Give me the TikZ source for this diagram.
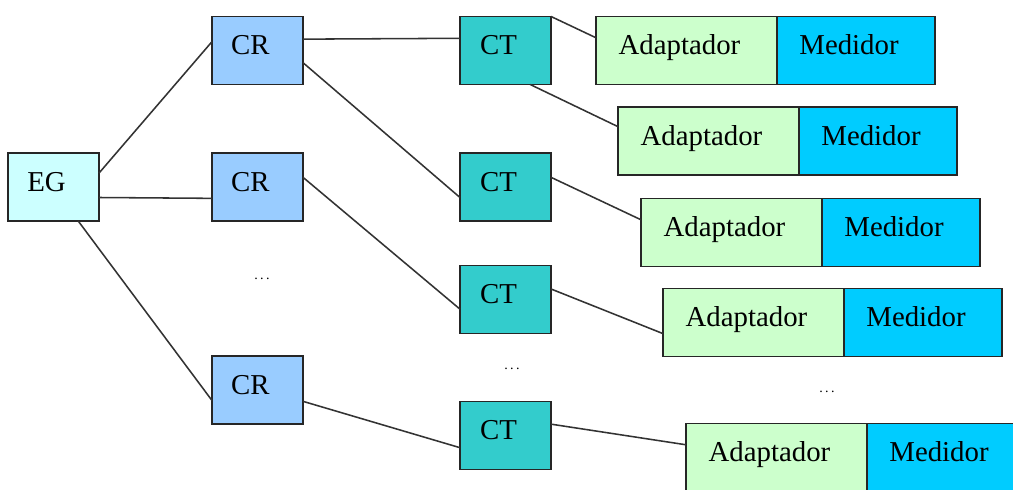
\documentclass[tikz,border=0pt]{standalone}
\usepackage{fontspec}
\setmainfont{Liberation Serif}
\usetikzlibrary{positioning}
\definecolor{egcyan}{RGB}{204,255,255}
\definecolor{crblue}{RGB}{153,204,255}
\definecolor{ctteal}{RGB}{51,204,204}
\definecolor{adgreen}{RGB}{204,255,204}
\definecolor{medblue}{RGB}{0,204,255}
\colorlet{linegray}{black!80}
\tikzstyle{box}=[draw=black!85,line width=1.3pt,rectangle,inner sep=0,outer sep=0,
  minimum height=1.7cm,text height=14pt,text depth=7.6pt,
  execute at end node={\hspace*{10pt}},font=\fontsize{20.5}{24}\selectfont]
\tikzstyle{box eg}=[box,fill=egcyan,minimum width=2.275cm]
\tikzstyle{box cr}=[box,fill=crblue,minimum width=2.275cm]
\tikzstyle{box ct}=[box,fill=ctteal,minimum width=2.275cm]
\tikzstyle{box adap}=[box,fill=adgreen,minimum width=4.525cm]
\tikzstyle{box med}=[box,fill=medblue,minimum width=3.95cm]
\tikzstyle{connect}=[line width=1.1pt,linegray]
\tikzstyle{dots}=[font=\normalsize]

\begin{document}
\begin{tikzpicture}[x=0.025cm,y=-0.025cm]
\clip (0,0) rectangle (1013,490);
\fill[white] (0,0) rectangle (1013,490);

% Ente gestor
\node [box eg] (EG) at (53.5,187) {EG};

% Concentradores regionales
\node [box cr] (CR1) at (257.5,50.5) {CR};
\node [box cr] (CR2) at (257.5,187) {CR};
\node [box cr] (CR3) at (257.5,390) {CR};
\node [dots] (CRdots) at (262,279) {.\,.\,.};

% Concentradores de tienda
\node [box ct] (CT1) at (505.5,50.5) {CT};
\node [box ct] (CT2) at (505.5,187) {CT};
\node [box ct] (CT3) at (505.5,299.5) {CT};
\node [box ct] (CT4) at (505.5,435.5) {CT};
\node [dots] (CTdots) at (512,369) {.\,.\,.};

% Adaptadores y medidores
\node [box adap] (A1) at (686.5,50.5) {Adaptador};
\node [box med] (M1) [right=0pt of A1] {Medidor};
\node [box adap] (A2) at (708.5,141) {Adaptador};
\node [box med] (M2) [right=0pt of A2] {Medidor};
\node [box adap] (A3) at (731.5,232.5) {Adaptador};
\node [box med] (M3) [right=0pt of A3] {Medidor};
\node [box adap] (A4) at (753.5,322.5) {Adaptador};
\node [box med] (M4) [right=0pt of A4] {Medidor};
\node [box adap] (A5) at (776.5,457.5) {Adaptador};
\node [box med] (M5) [right=0pt of A5] {Medidor};
\node [dots] (Adots) at (827,392) {.\,.\,.};

\begin{scope}[connect]
    \draw (EG.17) -- (CR1.169.4);
    \draw (EG.-13.6) -- (CR2.-166.4);
    \draw (EG.-54.2) -- (CR3.-167.6);
    \draw (CR1.14.2) -- (CT1.165.8);
    \draw (CR1.-15.4) -- (CT2.-167.6);
    \draw (CR2.12.4) -- (CT3.-168.2);
    \draw (CR3.-14.8) -- (CT4.-165.8);
    \draw (CT1.north east) -- (A1.172.8);
    \draw (CT1.-54.2) -- (A2.171.8);
    \draw (CT2.12.4) -- (A3.172.1);
    \draw (CT3.13) -- (A4.-173.4);
    \draw (CT4.14.2) -- (A5.172.8);
\end{scope}

\end{tikzpicture}
\end{document}
